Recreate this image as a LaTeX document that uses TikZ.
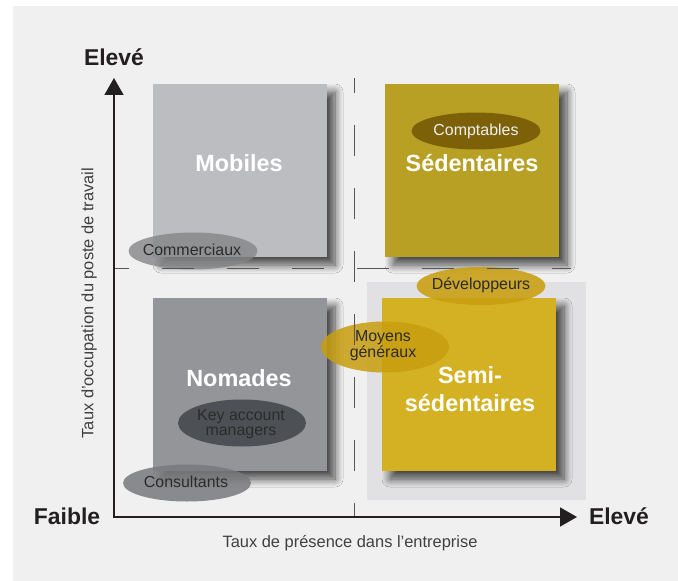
\documentclass[tikz,border=0pt]{standalone}
\usepackage{fontspec}
\setmainfont{Liberation Sans}
\usetikzlibrary{shapes.geometric,arrows.meta,shadows.blur}
\definecolor{pagebg}{HTML}{F0F0F0}
\definecolor{semibgc}{HTML}{E1E1E3}
\definecolor{mobc}{HTML}{BCBDC0}
\definecolor{sedc}{HTML}{B8A024}
\definecolor{nomc}{HTML}{939598}
\definecolor{semc}{HTML}{D4B122}
\definecolor{compc}{HTML}{7D6108}
\definecolor{keyc}{HTML}{4D5054}
\definecolor{grayell}{HTML}{838486}
\definecolor{consc}{HTML}{78797C}
\definecolor{yell}{HTML}{C89E10}
\definecolor{txtc}{HTML}{2B2B2B}
\definecolor{axisc}{HTML}{231F20}
\definecolor{dashc}{HTML}{555555}
\begin{document}
\begin{tikzpicture}[x=1bp,y=-1bp,
  box/.style={rectangle, inner sep=0pt, minimum width=174bp, minimum height=173bp,
    blur shadow={shadow xshift=8bp, shadow yshift=-8bp, shadow blur radius=8bp, shadow blur steps=12, shadow opacity=70}},
  blabel/.style={text=white, font=\bfseries\fontsize{23.5}{28.5}\selectfont, align=center, inner sep=0pt},
  axlabel/.style={text=axisc, font=\bfseries\fontsize{23}{27}\selectfont, inner sep=0pt},
  ell/.style={ellipse, inner sep=0pt, minimum width=129bp, minimum height=37bp},
  etext/.style={text=txtc, font=\fontsize{16}{15}\selectfont, align=center, inner sep=0pt},
  ttext/.style={text=txtc!90, font=\fontsize{16.5}{20}\selectfont, inner sep=0pt},
  axis/.style={draw=axisc, line width=1.5bp},
  dashline/.style={draw=dashc, line width=1bp}
]
\useasboundingbox (0,0) rectangle (678,581);
\fill[white] (0,0) rectangle (678,581);
\fill[pagebg] (13,6) rectangle (678,581);

% light grey field behind semi-sedentaires
\node[fill=semibgc, inner sep=0pt, minimum width=219bp, minimum height=218bp] (semibg) at (476.5,391) {};

% quadrant boxes
\node[box, fill=mobc] (mob) at (240,170.5) {};
\node[box, fill=sedc] (sed) at (472,170.5) {};
\node[box, fill=nomc] (nom) at (240,384.5) {};
\node[box, fill=semc] (sem) at (469,384.5) {};

% box labels
\node[blabel] (lmob) at (239,163) {Mobiles};
\node[blabel] (lsed) at (472,163) {Sédentaires};
\node[blabel] (lnom) at (239,378) {Nomades};
\node[blabel] (lsem) at (470,389) {Semi-\\sédentaires};

% ellipses
\node[ell, fill=compc] (ecomp) at (476,131) {};
\node[etext, text=white!94!black] (tcomp) at (ecomp) {Comptables};

\node[ell, fill=grayell, fill opacity=0.79] (ecomm) at (193,251) {};
\node[etext] (tcomm) at (192,250) {Commerciaux};

\node[ell, fill=yell, fill opacity=0.88, minimum height=38bp] (edev) at (481,286) {};
\node[etext] (tdev) at (481,285) {Développeurs};

\node[ell, fill=yell, fill opacity=0.86, minimum width=128bp, minimum height=51bp] (emoy) at (385,347) {};
\node[etext] (tmoy) at (383,346) {Moyens\\généraux};

\node[ell, fill=keyc, minimum width=128bp, minimum height=47bp] (ekey) at (242,423) {};
\node[etext] (tkey) at (241,424) {Key account\\managers};

\node[ell, fill=consc, fill opacity=0.85, minimum width=128bp] (econs) at (187,483) {};
\node[etext] (tcons) at (186,482) {Consultants};

% dashed quadrant lines
\coordinate (vtop) at (354,78);
\coordinate (vbot) at (354,517);
\coordinate (hleft) at (114,268);
\coordinate (hright) at (571,268);
\draw[dashline, dash pattern=on 31bp off 32bp, dash phase=16bp] (vtop) -- (vbot);
\draw[dashline, dash pattern=on 32bp off 33bp, dash phase=17bp] (hleft) -- (hright);

% axes
\coordinate (ytip) at (114,78);
\coordinate (orig) at (114,517);
\coordinate (xtip) at (577,517);
\draw[axis, {Triangle[length=17bp,width=19bp]}-{Triangle[length=17bp,width=19bp]}] (ytip) -- (orig) -- (xtip);

% axis labels
\node[axlabel] (ehaut) at (114,57) {Elevé};
\node[axlabel] (faible) at (67,516) {Faible};
\node[axlabel] (edroite) at (619,516) {Elevé};
\node[ttext] (xtitle) at (350,543) {Taux de présence dans l’entreprise};
\node[ttext, rotate=90] (ytitle) at (89,303) {Taux d’occupation du poste de travail};
\end{tikzpicture}
\end{document}
